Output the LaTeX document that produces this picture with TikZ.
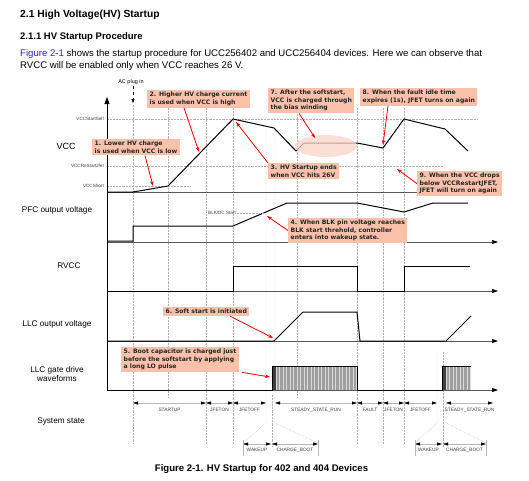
\documentclass[tikz,border=0pt]{standalone}
\usepackage{fontspec}
\setmainfont{Liberation Sans}
\newfontfamily\callfont{DejaVu Sans}
\usetikzlibrary{arrows.meta}
\definecolor{callfill}{RGB}{249,192,170}
\definecolor{ellfill}{RGB}{250,212,198}
\definecolor{linkblue}{RGB}{35,35,235}
\begin{document}
\begin{tikzpicture}[x=1pt,y=-1pt,
  gridl/.style={gray!60, densely dotted, line width=0.45pt},
  sig/.style={line width=1pt, black},
  axl/.style={line width=0.7pt, black!65, -{Triangle[length=6pt,width=4pt,color=black]}},
  callout/.style={fill=callfill, inner xsep=2.5pt, inner ysep=2pt, font=\callfont\bfseries\fontsize{6.1}{7.5}\selectfont, align=left, anchor=north west, text=black!85},
  redarr/.style={red, line width=0.8pt, -{Stealth[length=5pt,width=3.5pt]}},
  dimarr/.style={gray!55, line width=0.45pt, {Triangle[length=5pt,width=3pt,color=black]}-{Triangle[length=5pt,width=3pt,color=black]}},
  statelbl/.style={font=\fontsize{4.8}{5}\selectfont, text=black!75, inner sep=0.5pt},
  siglbl/.style={font=\fontsize{8.2}{9.4}\selectfont, align=center},
  vlbl/.style={font=\fontsize{4.6}{5}\selectfont, anchor=east, text=black!75, inner sep=1pt},
  extl/.style={gray!55, line width=0.4pt}
]
\useasboundingbox (0,0) rectangle (529,480);
\fill[white] (0,0) rectangle (529,480);

% header text
\node[anchor=base west, inner sep=0, font=\bfseries\fontsize{10.3}{12}\selectfont] (title) at (20,17.5) {2.1 High Voltage(HV) Startup};
\node[anchor=base west, inner sep=0, font=\bfseries\fontsize{9.5}{11}\selectfont] (sub) at (20,39.5) {2.1.1 HV Startup Procedure};
\node[anchor=base west, inner sep=0, font=\fontsize{9.6}{11}\selectfont] (p1) at (20,56.5) {\textcolor{linkblue}{Figure 2-1} shows the startup procedure for UCC256402 and UCC256404 devices. Here we can observe that};
\node[anchor=base west, inner sep=0, font=\fontsize{9.6}{11}\selectfont] (p2) at (20,68.5) {RVCC will be enabled only when VCC reaches 26 V.};

% grid lines
\draw[gridl] (133,105) -- (133,443);
\draw[gridl] (168,108) -- (168,397);
\draw[gridl] (206,108) -- (206,443);
\draw[gridl] (233,108) -- (233,443);
\draw[gridl] (266,108) -- (266,423) -- (243,443);
\draw[gridl] (275,108) -- (275,423) -- (318,443);
\draw[gridl] (272,395) -- (272,447);
\draw[gridl] (297,108) -- (297,397);
\draw[gridl] (357,108) -- (357,443);
\draw[gridl] (383,108) -- (383,443);
\draw[gridl] (404,108) -- (404,443);
\draw[gridl] (437,352) -- (437,423) -- (415,443);
\draw[gridl] (443,352) -- (443,447);
\draw[gridl] (446,352) -- (446,423) -- (486,443);
\draw[gridl] (107,119) -- (478,119);
\draw[gridl] (107,166) -- (442,166);
\draw[gridl] (107,186) -- (190,186);

% axis value labels
\node[vlbl] (vss) at (105,119) {VCCStartSelf};
\node[vlbl] (vrj) at (105,166) {VCCReStartJfet};
\node[vlbl] (vsh) at (105,186) {VCCShort};

% AC plug in
\node[font=\fontsize{5.5}{6}\selectfont, inner sep=1pt] (ac) at (131,82) {AC plug in};
\coordinate (acp) at (133,103);
\draw[black, dashed, line width=0.5pt, -{Triangle[length=4pt,width=3pt]}] (ac.south -| acp) -- (acp);

% axes
\draw[axl] (107,192) -- (498,192);
\draw[axl] (107,242) -- (498,242);
\draw[axl] (107,291) -- (498,291);
\draw[axl] (107,341) -- (498,341);
\draw[axl] (107,390) -- (498,390);
\draw[line width=0.9pt, -{Triangle[length=7pt,width=5pt]}] (107,390) -- (107,97);

% signal labels
\node[font=\fontsize{9}{10}\selectfont] (lvcc) at (66,146) {VCC};
\node[siglbl] (lpfc) at (57,210) {PFC output voltage};
\node[siglbl] (lrvcc) at (69,266) {RVCC};
\node[siglbl] (lllc) at (57,324) {LLC output voltage};
\node[siglbl] (lgate) at (57,374) {LLC gate drive\\waveforms};
\node[siglbl] (lsys) at (61,421) {System state};

% VCC
\draw[sig] (107,192) -- (133,192) -- (168,186) -- (233,119) -- (274,128) -- (296,151) -- (304,143) -- (357,143) -- (383,148) -- (404,119) -- (445,129) -- (468,151);
\fill[ellfill, opacity=0.75] (326,146) ellipse [x radius=31pt, y radius=11pt];

% PFC
\draw[sig] (107,241) -- (133,241) -- (133,226) -- (233,226) -- (287,203) -- (357,203) -- (404,212) -- (433,203) -- (468,203);
\node[font=\fontsize{4.6}{5}\selectfont, text=black!75, anchor=east, inner sep=1pt] (blk) at (237,213) {BLK/DC Start};
\coordinate (blkp) at (264,213);
\draw[gridl] (blk.east) -- (blkp);

% RVCC
\draw[sig] (107,291) -- (233,291) -- (233,266) -- (357,266) -- (357,291) -- (404,291) -- (404,266) -- (470,266);

% LLC output
\draw[sig] (107,341) -- (274,341) -- (303,312) -- (357,312) -- (360,341) -- (446,341) -- (471,316);

% gate drive
\fill[gray!30] (276,366) rectangle (357,390);
\foreach \x in {277,278.4,...,356.5} \draw[gray!75, line width=0.45pt] (\x,366) -- (\x,390);
\fill[gray!30] (446,366) rectangle (471,390);
\foreach \x in {447,448.4,...,470.5} \draw[gray!75, line width=0.45pt] (\x,366) -- (\x,390);
\fill[black!75] (272,366) rectangle (276,390);
\fill[black!75] (442,366) rectangle (446,390);
\draw[sig] (107,390) -- (272,390) -- (272,366) -- (357,366) -- (357,390) -- (442,390) -- (442,366) -- (471,366);

% system states
\foreach \n/\x in {a/133,b/206,c/233,d/266,e/275,f/357,g/383,h/404,i/437,j/446,k/493}
  \coordinate (s\n) at (\x,403);
\draw[dimarr] (sa) -- (sb) node[statelbl, midway, below=4pt] (st1) {STARTUP};
\draw[dimarr] (sb) -- (sc) node[statelbl, midway, below=4pt] (st2) {JFETON};
\draw[dimarr] (sc) -- (sd) node[statelbl, midway, below=4pt] (st3) {JFETOFF};
\draw[dimarr] (se) -- (sf) node[statelbl, midway, below=4pt] (st4) {STEADY\_STATE\_RUN};
\draw[dimarr] (sf) -- (sg) node[statelbl, midway, below=4pt] (st5) {FAULT};
\draw[dimarr] (sg) -- (sh) node[statelbl, midway, below=4pt] (st6) {JFETON};
\draw[dimarr] (sh) -- (si) node[statelbl, midway, below=4pt] (st7) {JFETOFF};
\draw[dimarr] (sj) -- (sk) node[statelbl, midway, below=4pt] (st8) {STEADY\_STATE\_RUN};

\foreach \n/\x in {a/243,b/271,c/272,d/318,e/415,f/442,g/443,h/486}
  \coordinate (w\n) at (\x,444);
\draw[dimarr] (wa) -- (wb) node[statelbl, midway, below=3pt] (wk1) {WAKEUP};
\draw[dimarr] (wc) -- (wd) node[statelbl, midway, below=3pt] (cb1) {CHARGE\_BOOT};
\draw[dimarr] (we) -- (wf) node[statelbl, midway, below=3pt] (wk2) {WAKEUP};
\draw[dimarr] (wg) -- (wh) node[statelbl, midway, below=3pt] (cb2) {CHARGE\_BOOT};
\foreach \x in {243,318,415,486} \draw[extl] (\x,440) -- (\x,456);

% callouts
\node[callout] (b1) at (92,139) {1. Lower HV charge\\is used when VCC is low};
\node[callout] (b2) at (147,90) {2. Higher HV charge current\\is used when VCC is high};
\node[callout] (b3) at (268,163) {3. HV Startup ends\\when VCC hits 26V};
\node[callout] (b7) at (268,88) {7. After the softstart,\\VCC is charged through\\the bias winding};
\node[callout] (b8) at (360,88) {8. When the fault idle time\\expires (1s), JFET turns on again};
\node[callout] (b9) at (417,171) {9. When the VCC drops\\below VCCRestartJFET,\\JFET will turn on again};
\node[callout] (b4) at (288,218) {4. When BLK pin voltage reaches\\BLK start threhold, controller\\enters into wakeup state.};
\node[callout] (b6) at (163,307) {6. Soft start is initiated};
\node[callout] (b5) at (121,347) {5. Boot capacitor is charged just\\before the softstart by applying\\a long LO pulse};

\coordinate (t1) at (153,186);
\coordinate (t2) at (199,152);
\coordinate (t3) at (236,122);
\coordinate (t7) at (315,138);
\coordinate (t8) at (383,145);
\coordinate (t9) at (397,169);
\coordinate (t4) at (267,216);
\coordinate (t6) at (273,338);
\coordinate (t5) at (270,377);

\draw[redarr] ([xshift=53pt]b1.south west) -- (t1);
\draw[redarr] ([xshift=37pt]b2.south west) -- (t2);
\draw[redarr] (b3.north west) -- (t3);
\draw[redarr] ([xshift=31pt]b7.south west) -- (t7);
\draw[redarr] ([xshift=28pt]b8.south west) -- (t8);
\draw[redarr] (b9.west) -- (t9);
\draw[redarr] (b4.west) -- (t4);
\draw[redarr] ([xshift=67pt]b6.south west) -- (t6);
\draw[redarr] ([xshift=121pt]b5.south west) -- (t5);

% caption
\node[anchor=base, inner sep=0, font=\bfseries\fontsize{9.6}{11}\selectfont] (cap) at (261.5,471.5) {Figure 2-1. HV Startup for 402 and 404 Devices};
\end{tikzpicture}
\end{document}
